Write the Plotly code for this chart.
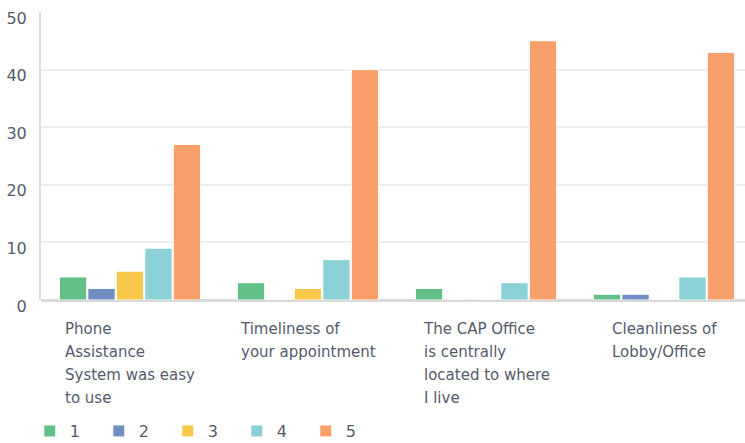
import plotly.graph_objects as go

categories = [
    ["Phone", "Assistance", "System was easy", "to use"],
    ["Timeliness of", "your appointment"],
    ["The CAP Office", "is centrally", "located to where", "I live"],
    ["Cleanliness of", "Lobby/Office"],
]
ratings = ["1", "2", "3", "4", "5"]
values = {
    "1": [4, 3, 2, 1],
    "2": [2, 0, 0, 1],
    "3": [5, 2, 0, 0],
    "4": [9, 7, 3, 4],
    "5": [27, 40, 45, 43],
}
colors = ["#62c087", "#6f8fc2", "#f9c74a", "#8ad0d6", "#f89f6c"]

fig = go.Figure()

for rating, color in zip(ratings, colors):
    fig.add_trace(go.Bar(
        x = list(range(len(categories))),
        y = values[rating],
        name = rating,
        marker = dict(color = color, line = dict(color = "white", width = 1))))

# category labels: centred block, lines left aligned, wider line spacing
for i, lines in enumerate(categories):
    text = "<br>".join('<span style="font-size:15px">%s</span>' % l for l in lines)
    fig.add_annotation(
        x = i, y = 0, xref = "x", yref = "paper",
        text = text, showarrow = False,
        xanchor = "center", yanchor = "top", align = "left",
        yshift = -18,
        font = dict(family = "DejaVu Sans", size = 17.7, color = "#555b6b"))

fig.update_layout(
    width = 745, height = 443,
    margin = dict(l = 41, r = 0, t = 12, b = 143, autoexpand = False),
    plot_bgcolor = "white", paper_bgcolor = "white",
    barmode = "group", bargap = 0.2, bargroupgap = 0.04,
    font = dict(family = "DejaVu Sans", size = 16, color = "#555b6b"),
    showlegend = True,
    legend = dict(
        orientation = "h", xref = "container", yref = "paper",
        x = 0.04, y = -0.455, xanchor = "left", yanchor = "middle",
        entrywidth = 24, font = dict(size = 16)),
    xaxis = dict(
        range = [-0.5, 3.455], showticklabels = False, showgrid = False,
        zeroline = False, showline = False, automargin = False),
    yaxis = dict(
        range = [0, 50], dtick = 10, showgrid = True, gridcolor = "#eeeeee",
        gridwidth = 2, zeroline = True, zerolinecolor = "#d9d9d9",
        zerolinewidth = 3, showline = True, linecolor = "#dddddd",
        linewidth = 2, ticks = "", ticklabelstandoff = 9,
        ticklabelshift = 6, automargin = False))

# drop the default page margin so the figure sits at the window corner
fig.write_html("out.html", config = {"displayModeBar": False},
               post_script = "document.body.style.margin = '0';")
